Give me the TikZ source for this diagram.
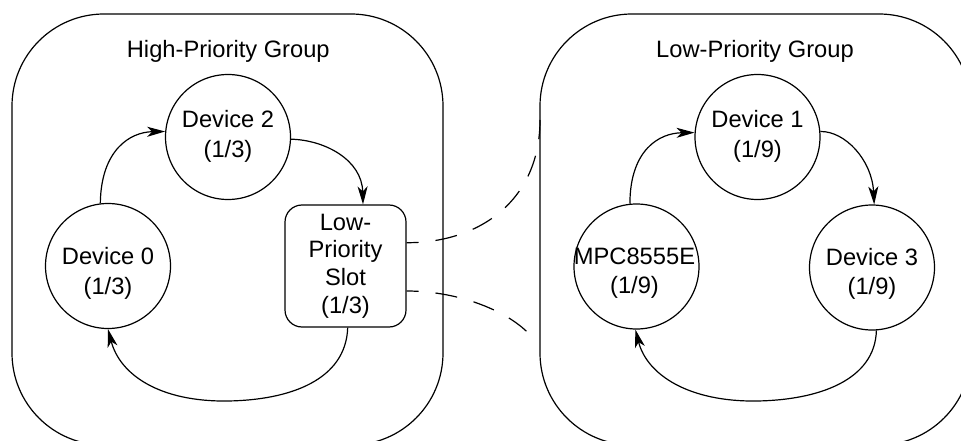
\documentclass[tikz,border=0pt]{standalone}
\usepackage{fontspec}
\setmainfont{Liberation Sans}
\usetikzlibrary{arrows.meta,calc}
\begin{document}
\begin{tikzpicture}[x=1pt,y=-1pt,
  line width=1.2pt,
  grp/.style={draw, rounded corners=92pt, minimum width=431pt, minimum height=431pt, inner sep=0pt},
  dev/.style={draw, circle, minimum size=125pt, inner sep=0pt, fill=white},
  slotbox/.style={draw, rounded corners=17pt, minimum width=121pt, minimum height=122pt, fill=white, inner sep=0pt, align=center, font=\fontsize{23.7}{27.7}\selectfont},
  lbl/.style={align=center, font=\fontsize{23.7}{29.5}\selectfont, inner sep=0pt},
  ttl/.style={font=\fontsize{23.7}{29}\selectfont, inner sep=0pt},
  flow/.style={-{Stealth[length=18pt,width=10pt,inset=5pt]}},
  link/.style={dash pattern=on 22pt off 17pt, dash phase=10pt}
]
\fill[white] (0,0) rectangle (961,441);
\useasboundingbox (0,0) rectangle (961,441);
\clip (0,0) rectangle (961,441);

% groups
\node[grp] (hg) at (227.5,229.5) {};
\node[grp] (lg) at (755.5,229.5) {};
\node[ttl] (hgt) at (228.3,51) {High-Priority Group};
\node[ttl] (lgt) at (755,51) {Low-Priority Group};

% dashed links (drawn first, slot covers start)
\coordinate (ua) at (540,120);
\coordinate (la) at (531,336);

% high-priority nodes
\node[dev] (d2) at (228,137) {};
\node[lbl] (d2t) at (228,136.5) {Device 2\\(1/3)};
\node[dev] (d0) at (108,266) {};
\node[lbl] (d0t) at (108,273.5) {Device 0\\(1/3)};
\node[slotbox] (slot) at (345.5,266) {Low-\\Priority\\Slot\\(1/3)};

% low-priority nodes
\node[dev] (d1) at (757.5,137) {};
\node[lbl] (d1t) at (757.5,136.5) {Device 1\\(1/9)};
\node[dev] (m) at (636.5,266.5) {};
\node[lbl] (mt) at (634.5,273) {MPC8555E\\(1/9)};
\node[dev] (d3) at (872,267.5) {};
\node[lbl] (d3t) at (872,274) {Device 3\\(1/9)};

\draw[link] ([yshift=23.3pt]slot.east) .. controls (480,243) and (540,200) .. (ua);
\draw[link] ([yshift=-25pt]slot.east) .. controls (460,291) and (510,312) .. (la);

% high-priority cycle
\draw[flow] (d0.97) .. controls (101,150) and (130,132) .. (d2.175);
\draw[flow] (d2.-2) .. controls (325,140) and (362,160) .. ([xshift=17.5pt]slot.north);
\draw[flow] ([xshift=2.2pt]slot.south) .. controls (346,380) and (290,400) .. (228,401)
  .. controls (160,402) and (120,375) .. (d0.south);

% low-priority cycle
\draw[flow] (m.96) .. controls (630,150) and (659,133) .. (d1.176);
\draw[flow] (d1.5) .. controls (845,131) and (872,160) .. (d3.88);
\draw[flow] (d3.-86) .. controls (875,380) and (819,400) .. (757,401)
  .. controls (689,402) and (647,375) .. (m.-91);
\end{tikzpicture}
\end{document}
